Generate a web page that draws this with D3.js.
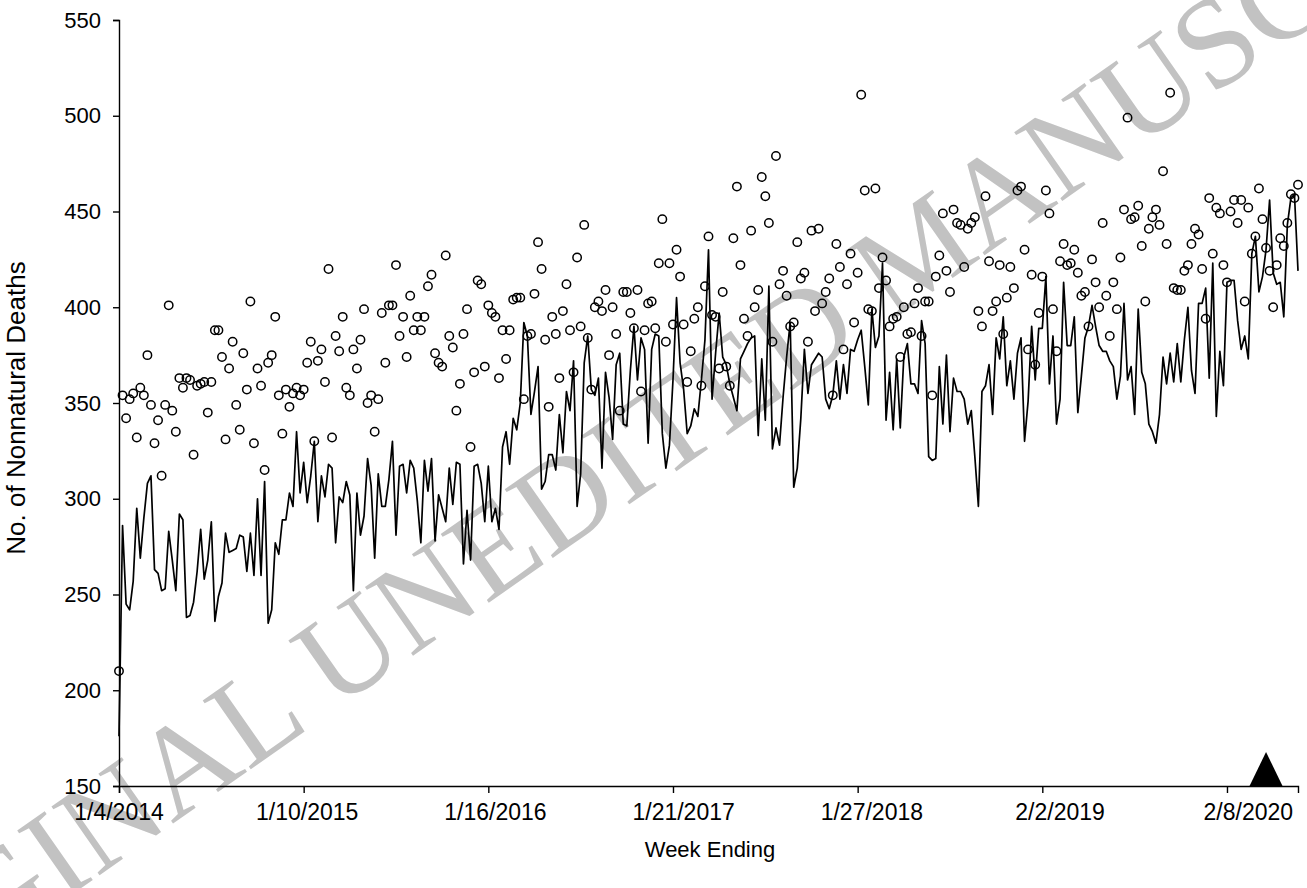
<!DOCTYPE html>
<html>
<head>
<meta charset="utf-8">
<script src="https://cdn.jsdelivr.net/npm/d3@7"></script>
<style>
  body { margin: 0; background: #fff; }
  svg text { font-family: "Liberation Sans", Arial, sans-serif; }
</style>
</head>
<body>
<svg id="chart" width="1307" height="888"></svg>
<script>
// x tick labels (one label every 53 weeks, tick marks every 52 weeks, as in the source chart)
const xTickLabels = ["1/4/2014", "1/10/2015", "1/16/2016", "1/21/2017", "1/27/2018", "2/2/2019", "2/8/2020"];
const labelEvery = 53;
const tickEvery = 52;
const yTicks = [150, 200, 250, 300, 350, 400, 450, 500, 550];

// weekly series drawn as a line
const lineDeaths = [
  176, 286, 245, 242, 257, 295, 269, 290, 308, 312, 263, 261, 252, 253, 283, 268, 252, 292, 289, 238,
  239, 246, 262, 284, 258, 268, 288, 236, 249, 256, 282, 272, 273, 274, 281, 280, 262, 282, 260, 300,
  260, 309, 235, 242, 277, 271, 289, 289, 303, 296, 335, 303, 319, 298, 312, 330, 288, 312, 301, 318,
  316, 277, 301, 298, 309, 302, 252, 303, 281, 291, 321, 307, 269, 313, 296, 296, 310, 330, 281,
  317, 318, 303, 320, 316, 299, 277, 320, 304, 321, 278, 302, 295, 288, 316, 297, 319, 318, 266, 294,
  268, 317, 318, 308, 288, 317, 288, 295, 284, 327, 335, 318, 342,
  336, 350, 392, 385, 344, 356, 369, 305, 309, 323, 323, 315, 344, 324, 356, 346, 372, 296, 313, 371,
  385, 357, 354, 363, 316, 366, 353, 331, 370, 376, 339, 338, 367, 390, 362, 384, 378, 329, 378, 386,
  385, 334, 316, 328, 362, 405, 371, 357, 334, 338, 347, 343, 362, 383, 430, 352, 376, 397, 374, 370,
  360, 353, 346, 373, 377, 381, 384, 385, 333, 373, 341, 411, 326, 337, 328, 353, 374, 392, 306, 316,
  342, 378, 355, 370, 373, 376, 374, 352, 347, 354, 372, 352, 370, 355, 378, 377, 383, 388, 369, 349,
  399, 379, 385, 423, 341, 366, 336, 373, 337, 374, 381,
  360, 360, 355, 393, 381, 322, 320, 321, 369, 339, 375, 335, 363, 356, 356, 352, 339, 346, 322, 296,
  356, 359, 370, 344, 384, 373, 395, 359, 372, 352, 376, 384, 330, 351, 390, 362, 389, 389, 416, 360,
  385, 339, 352, 413, 380, 380, 395, 345, 364, 384, 390, 401, 390, 380, 377, 377, 372, 369, 352, 364,
  402, 362, 369, 344, 399, 366, 360, 339, 335, 329, 344, 374, 360, 376, 361, 381, 361, 383, 400, 367,
  355, 402, 402, 410, 363, 423, 343, 377, 359, 413, 414, 414, 393, 378, 385, 373, 428, 437, 408, 416,
  430, 456, 418, 412, 413, 395, 443, 457, 459, 419
];

// weekly series drawn as open circles
const pointDeaths = [
  210, 354, 342, 352, 355, 332, 358, 354, 375, 349, 329, 341, 312, 349, 401, 346, 335, 363, 358, 363,
  362, 323, 359, 360, 361, 345, 361, 388, 388, 374, 331, 368, 382, 349, 336, 376, 357, 403, 329, 368,
  359, 315, 371, 375, 395, 354, 334, 357, 348, 355, 358, 354, 357, 371, 382, 330, 372, 378, 361, 420,
  332, 385, 377, 395, 358, 354, 378, 368, 383, 399, 350, 354, 335, 352, 397, 371, 401, 401, 422, 385,
  395, 374, 406, 388, 395, 388, 395, 411, 417, 376, 371, 369, 427, 385, 379, 346, 360, 386, 399, 327,
  366, 414, 412, 369, 401, 397, 395, 363, 388, 373, 388, 404,
  405, 405, 352, 385, 386, 407, 434, 420, 383, 348, 395, 386, 363, 398, 412, 388, 366, 426, 390, 443,
  384, 357, 400, 403, 398, 409, 375, 400, 386, 346, 408, 408, 397, 389, 409, 356, 388, 402, 403, 389,
  423, 446, 382, 423, 391, 430, 416, 391, 361, 377, 394, 400, 359, 411, 437, 396, 395, 368, 408, 369,
  359, 436, 463, 422, 394, 385, 440, 400, 409, 468, 458, 444, 382, 479, 412, 419, 406, 390, 392, 434,
  415, 418, 382, 440, 398, 441, 402, 408, 415, 354, 433, 421, 378, 412, 428, 392, 418, 511, 461, 399,
  398, 462, 410, 426, 414, 390, 394, 395, 374, 400, 386,
  387, 402, 410, 385, 403, 403, 354, 416, 427, 449, 419, 408, 451, 444, 443, 421, 441, 444, 447, 398,
  390, 458, 424, 398, 403, 422, 386, 405, 421, 410, 461, 463, 430, 378, 417, 370, 397, 416, 461, 449,
  399, 377, 424, 433, 422, 423, 430, 418, 406, 408, 390, 425, 413, 400, 444, 406, 385, 413, 399, 426,
  451, 499, 446, 447, 453, 432, 403, 441, 447, 451, 443, 471, 433, 512, 410, 409, 409, 419, 422, 433,
  441, 438, 420, 394, 457, 428, 452, 449, 422, 413, 450, 456, 444, 456, 403, 452, 428, 437, 462, 446,
  431, 419, 400, 422, 436, 432, 444, 459, 457, 464
];

// week index of the triangle marker
const markerWeek = 323;

var margin = {top: 20, right: 9, bottom: 102, left: 119};
var width = 1307, height = 888;
const n = lineDeaths.length;

const svg = d3.select("#chart");

// watermark behind the chart
svg.append("text")
  .attr("transform", "translate(660,428) rotate(-35)")
  .attr("text-anchor", "middle")
  .attr("dy", "0.35em")
  .style("font-family", "'Liberation Serif', 'Times New Roman', serif")
  .style("font-size", "128px")
  .style("fill", "#c2c2c2")
  .text("ORIGINAL UNEDITED MANUSCRIPT");

const x = d3.scaleLinear().domain([0, n - 1]).range([margin.left, width - margin.right]);
const y = d3.scaleLinear().domain([150, 550]).range([height - margin.bottom, margin.top]);

// line
const line = d3.line().x((d, i) => x(i)).y(d => y(d));
svg.append("path")
  .datum(lineDeaths)
  .attr("d", line)
  .style("fill", "none")
  .style("stroke", "#000")
  .style("stroke-width", 1.7)
  .style("stroke-linejoin", "round");

// circles
svg.append("g").selectAll("circle")
  .data(pointDeaths)
  .enter().append("circle")
  .attr("cx", (d, i) => x(i))
  .attr("cy", d => y(d))
  .attr("r", 4.2)
  .style("fill", "none")
  .style("stroke", "#000")
  .style("stroke-width", 1.5);

// y axis
const yAxis = d3.axisLeft(y).tickValues(yTicks).tickSize(6).tickPadding(12);
const gy = svg.append("g")
  .attr("transform", `translate(${margin.left},0)`)
  .call(yAxis);
gy.select(".domain").style("stroke-width", 1.4);
gy.selectAll(".tick line").style("stroke-width", 1.4);
gy.selectAll(".tick text").style("font-size", "22px").style("fill", "#000");

// x axis: ticks every 52 weeks, labels every 53 weeks
const xAxis = d3.axisBottom(x).tickValues(d3.range(0, n, tickEvery)).tickSize(7).tickFormat("");
const gx = svg.append("g")
  .attr("transform", `translate(0,${y(150)})`)
  .call(xAxis);
gx.select(".domain").style("stroke-width", 1.4);
gx.selectAll(".tick line").style("stroke-width", 1.4);

svg.append("g").selectAll("text")
  .data(xTickLabels)
  .enter().append("text")
  .attr("x", (d, i) => x(i * labelEvery))
  .attr("y", y(150) + 34)
  .attr("text-anchor", "middle")
  .style("font-size", "23px")
  .text(d => d);

// triangle marker
const tx = x(markerWeek), ty = y(150);
svg.append("path")
  .attr("d", `M${tx - 16.5},${ty} L${tx},${ty - 34} L${tx + 16.5},${ty} Z`)
  .style("fill", "#000");

// axis titles
svg.append("text")
  .attr("x", 710)
  .attr("y", 857)
  .attr("text-anchor", "middle")
  .style("font-size", "22px")
  .text("Week Ending");

svg.append("text")
  .attr("transform", "translate(25,408) rotate(-90)")
  .attr("text-anchor", "middle")
  .style("font-size", "26px")
  .text("No. of Nonnatural Deaths");
</script>
</body>
</html>
